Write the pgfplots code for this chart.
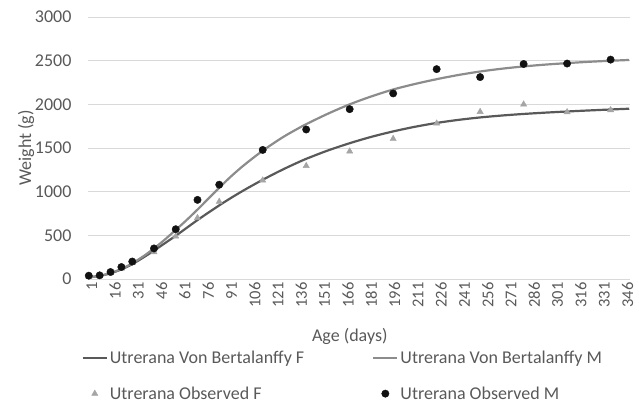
\documentclass[border=0pt]{standalone}
\usepackage{pgfplots}
\pgfplotsset{compat=1.18}
\usepackage{fontspec}
\setmainfont{Carlito}
\definecolor{txt}{HTML}{595959}
\definecolor{gridc}{HTML}{D9D9D9}
\definecolor{fline}{HTML}{595959}
\definecolor{mline}{HTML}{8C8C8C}
\definecolor{fobs}{HTML}{A5A5A5}
\definecolor{mobs}{HTML}{111111}
\begin{document}
\begin{tikzpicture}[x=1pt,y=1pt]
\useasboundingbox (-88,-126) rectangle (551,279);
\begin{axis}[
  at={(0,0)}, anchor=south west,
  width=542pt, height=262pt, scale only axis,
  xmin=0.5, xmax=349.5, ymin=0, ymax=3000,
  xtick={1,16,...,346}, ytick={0,500,...,3000},
  axis line style={draw=none},
  tick style={draw=none},
  ymajorgrids, grid style={gridc, line width=0.8pt},
  /pgf/number format/assume math mode=true,
  /pgf/number format/1000 sep={},
  yticklabel style={font=\fontsize{18}{20}\selectfont, text=txt, xshift=-13pt},
  xticklabel style={font=\fontsize{16.5}{18}\selectfont, text=txt, rotate=90, anchor=east, yshift=-3pt},
  xlabel={Age (days)}, ylabel={Weight (g)},
  every axis x label/.style={at={(axis description cs:0.483,0)}, anchor=center, yshift=-57pt, font=\fontsize{18}{20}\selectfont, text=txt},
  every axis y label/.style={at={(axis description cs:-0.1144,0.5)}, rotate=90, anchor=center, font=\fontsize{18}{20}\selectfont, text=txt},
  legend columns=2,
  legend cell align=left,
  legend image code/.code={\draw[mark repeat=2,mark phase=2,#1] plot coordinates {(0pt,0pt) (12pt,0pt) (24pt,0pt)};},
  legend style={at={(axis description cs:-0.012,-0.265)}, anchor=north west, draw=none, fill=none,
    font=\fontsize{18}{20}\selectfont, text=txt, inner sep=0pt,
    row sep=18pt, /tikz/every even column/.append style={column sep=66pt}},
]
\addplot[fline, line width=2.2pt, smooth, no markers] coordinates {
(1,20) (8,35) (15,66) (22,110) (29,170) (36,245) (43,325) (50,410) (57,495) (64,585)
(71,675) (78,760) (85,843) (92,922) (99,997) (106,1068) (113,1136) (120,1201) (127,1263)
(134,1321) (141,1376) (155,1472) (169,1555) (183,1628) (197,1690) (211,1743) (225,1787)
(239,1822) (253,1850) (267,1872) (281,1890) (295,1905) (309,1918) (323,1930) (337,1941) (349,1950)};
\addlegendentry{Utrerana Von Bertalanffy F}
\addplot[mline, line width=2.2pt, smooth, no markers] coordinates {
(1,20) (8,35) (15,68) (22,115) (29,180) (36,258) (43,350) (50,452) (57,562) (64,675)
(71,795) (78,920) (85,1045) (92,1165) (99,1275) (106,1375) (113,1469) (120,1555) (127,1635)
(134,1706) (141,1773) (155,1893) (169,2000) (183,2091) (197,2170) (211,2233) (225,2288)
(239,2336) (253,2376) (267,2408) (281,2434) (295,2455) (309,2472) (323,2487) (337,2499) (349,2508)};
\addlegendentry{Utrerana Von Bertalanffy M}
\addplot[only marks, mark=triangle*, mark size=3.6pt, fobs, mark options={draw=fobs, fill=fobs}] coordinates {
(1,30) (8,38) (15,70) (22,122) (29,185) (43,308) (57,488) (71,700) (85,886) (113,1130)
(141,1296) (169,1462) (197,1606) (225,1782) (253,1915) (281,2000) (309,1912) (337,1935)};
\addlegendentry{Utrerana Observed F}
\addplot[only marks, mark=*, mark size=3.7pt, mobs, mark options={draw=mobs, fill=mobs}] coordinates {
(1,38) (8,42) (15,80) (22,137) (29,200) (43,350) (57,570) (71,906) (85,1080) (113,1478)
(141,1712) (169,1945) (197,2125) (225,2403) (253,2312) (281,2462) (309,2467) (337,2512)};
\addlegendentry{Utrerana Observed M}
\end{axis}
\end{tikzpicture}
\end{document}
